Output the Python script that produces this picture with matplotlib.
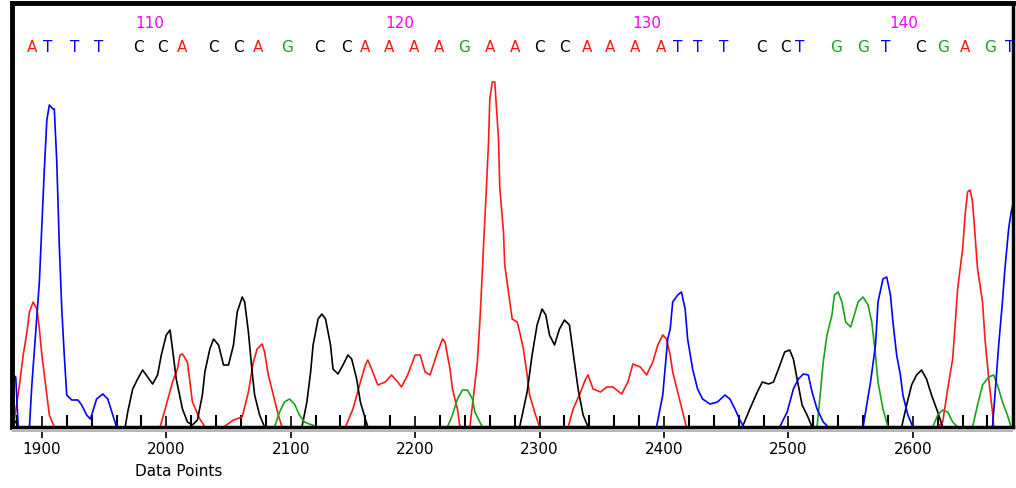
import numpy as np
import matplotlib
matplotlib.use("Agg")
import matplotlib.pyplot as plt
from matplotlib.patches import Rectangle

# trace data: x in data points, y = signal height
a_x = [1877, 1878, 1882, 1885, 1888, 1890, 1893, 1896, 1898, 1900, 1902, 1904, 1906, 1910,
       1995, 2000, 2005, 2009, 2011, 2013, 2017, 2019, 2021, 2027, 2031,
       2046, 2054, 2061, 2066, 2070, 2073, 2077, 2079, 2082, 2086, 2090, 2093,
       2144, 2150, 2156, 2160, 2162, 2165, 2170, 2176, 2181, 2186, 2189, 2194, 2200, 2204,
       2208, 2212, 2218, 2222, 2224, 2228, 2230, 2234, 2236,
       2244, 2247, 2250, 2252, 2254, 2255, 2257, 2259, 2260, 2262, 2264, 2267, 2268, 2271,
       2272, 2275, 2278, 2282, 2284, 2287, 2290, 2292, 2296, 2300,
       2323, 2327, 2333, 2337, 2339, 2343, 2349, 2354, 2359, 2366, 2371, 2375, 2381, 2386,
       2391, 2395, 2399, 2402, 2405, 2407, 2411, 2415, 2418,
       2620, 2624, 2628, 2632, 2634, 2636, 2640, 2642, 2644, 2646, 2648, 2650, 2652, 2656,
       2658, 2661, 2664, 2665]
a_y = [5, 8, 42, 72, 95, 115, 125, 118, 98, 72, 52, 32, 12, 0,
       0, 22, 45, 58, 72, 73, 65, 45, 25, 8, 0,
       0, 7, 10, 35, 65, 78, 83, 75, 52, 32, 12, 0,
       0, 18, 45, 62, 67, 58, 42, 45, 52, 45, 40, 52, 72, 72,
       55, 52, 75, 88, 85, 58, 38, 18, 0,
       0, 32, 65, 105, 155, 182, 232, 285, 328, 345, 345, 288, 240, 195,
       162, 135, 108, 105, 95, 78, 52, 32, 15, 0,
       0, 18, 35, 48, 52, 38, 35, 40, 40, 33, 45, 63, 60, 52,
       65, 82, 92, 88, 72, 55, 35, 15, 0,
       0, 5, 38, 68, 102, 138, 178, 212, 235, 237, 225, 192, 158, 125,
       88, 48, 15, 0]

c_x = [1877, 1879, 1881,
       1967, 1969, 1973, 1977, 1981, 1985, 1989, 1993, 1996, 2000, 2003, 2005, 2008, 2013,
       2017, 2021, 2025, 2029, 2031, 2035, 2038, 2042, 2046, 2050, 2054, 2057, 2061, 2063,
       2066, 2069, 2071, 2075, 2079,
       2109, 2113, 2116, 2118, 2122, 2125, 2128, 2132, 2134, 2138, 2142, 2146, 2149, 2153,
       2156, 2160, 2162,
       2284, 2290, 2294, 2298, 2302, 2305, 2308, 2312, 2316, 2320, 2324, 2328, 2331, 2335, 2339,
       2463, 2469, 2475, 2479, 2484, 2488, 2492, 2497, 2501, 2504, 2507, 2511, 2515, 2519,
       2591, 2595, 2599, 2603, 2607, 2611, 2615, 2620, 2624]
c_y = [8, 5, 0,
       0, 15, 38, 48, 57, 50, 43, 52, 72, 92, 97, 78, 48, 18,
       5, 2, 7, 32, 55, 78, 88, 82, 62, 62, 82, 115, 130, 125,
       95, 55, 32, 12, 0,
       0, 25, 55, 82, 108, 113, 108, 82, 58, 53, 62, 72, 68, 48,
       25, 8, 0,
       0, 35, 72, 102, 118, 112, 92, 82, 98, 107, 102, 65, 38, 12, 0,
       0, 18, 35, 45, 43, 45, 58, 75, 77, 68, 48, 22, 12, 0,
       0, 22, 42, 52, 57, 48, 32, 15, 0]

g_x = [2087, 2091, 2095, 2099, 2103, 2107, 2111, 2115, 2122,
       2226, 2230, 2234, 2238, 2242, 2246, 2248, 2254,
       2523, 2525, 2528, 2531, 2535, 2537, 2540, 2543, 2546, 2550, 2552, 2556, 2560, 2564,
       2567, 2570, 2572, 2576, 2580,
       2616, 2620, 2624, 2628, 2632, 2636,
       2648, 2652, 2656, 2661, 2665, 2669, 2672, 2676, 2679]
g_y = [0, 15, 25, 28, 23, 12, 5, 3, 0,
       0, 12, 28, 37, 37, 28, 15, 0,
       0, 25, 65, 92, 112, 132, 135, 125, 105, 100, 108, 125, 130, 122,
       105, 72, 45, 18, 0,
       0, 12, 17, 15, 5, 0,
       0, 22, 42, 50, 52, 38, 25, 12, 0]

t_x = [1877, 1879, 1881, 1890, 1892, 1898, 1900, 1902, 1904, 1906, 1909, 1910, 1912, 1914,
       1916, 1918, 1920, 1924, 1929, 1932, 1936, 1939, 1944, 1949, 1953, 1957, 1960,
       2394, 2399, 2403, 2405, 2407, 2411, 2414, 2417, 2419, 2423, 2427, 2431, 2437, 2443,
       2449, 2453, 2457, 2461, 2464,
       2493, 2499, 2504, 2508, 2512, 2516, 2519, 2523, 2528, 2532,
       2560, 2566, 2570, 2572, 2576, 2579, 2582, 2584, 2587, 2590, 2592, 2596, 2600,
       2664, 2666, 2669, 2672, 2674, 2677, 2679, 2681]
t_y = [52, 50, 0, 0, 43, 145, 202, 258, 307, 322, 318, 318, 265, 182,
       118, 72, 32, 27, 27, 22, 12, 8, 28, 33, 28, 12, 0,
       0, 32, 88, 98, 125, 132, 135, 118, 88, 58, 38, 28, 23, 25,
       32, 28, 18, 7, 0,
       0, 15, 38, 48, 53, 52, 35, 18, 5, 0,
       0, 45, 82, 125, 148, 150, 132, 105, 72, 52, 32, 12, 0,
       0, 32, 82, 125, 158, 198, 215, 225]

# base calls
bases = list("ATTTCCACCAGCCAAAAGAACCAAAATTTCCTGGTCGAGT")
base_x = [1892, 1905, 1926, 1946, 1978, 1997, 2013, 2038, 2058, 2074, 2097, 2123, 2145,
          2160, 2179, 2199, 2219, 2239, 2260, 2280, 2300, 2320, 2338, 2357, 2377, 2398,
          2411, 2427, 2448, 2478, 2498, 2509, 2538, 2560, 2578, 2606, 2624, 2642, 2662, 2678]
num_labels = ["110", "120", "130", "140"]
num_x = [1987, 2188, 2386, 2593]

ticks = [1900, 2000, 2100, 2200, 2300, 2400, 2500, 2600]

colors = {"A": "#ff1a1a", "C": "#000000", "G": "#1aa31a", "T": "#0000ff"}

fig = plt.figure(figsize=(10.16, 4.88), dpi=100)
ax = fig.add_axes([12 / 1016, 61 / 488, 1001 / 1016, 424 / 488])

ax.plot(a_x, a_y, color=colors["A"], lw=1.2)
ax.plot(c_x, c_y, color=colors["C"], lw=1.2)
ax.plot(g_x, g_y, color=colors["G"], lw=1.2)
ax.plot(t_x, t_y, color=colors["T"], lw=1.2)

for b, x in zip(bases, base_x):
    ax.text(x, 380, b, color=colors[b], ha="center", va="center",
            fontsize=11, clip_on=True)
for s, x in zip(num_labels, num_x):
    ax.text(x, 404, s, color="#ff00ff", ha="center", va="center", fontsize=11)

ax.set_xlim(1876, 2680.5)
ax.set_ylim(0, 424)
ax.set_yticks([])
ax.set_xticks(ticks)
ax.set_xticklabels([str(t) for t in ticks], fontsize=11)
ax.set_xticks(np.arange(1880, 2680, 20), minor=True)
ax.tick_params(axis="x", which="major", direction="inout", length=16, width=1.2, pad=3)
ax.tick_params(axis="x", which="minor", direction="in", length=9, width=1.5)

ax.spines["left"].set_linewidth(3.5)
ax.spines["top"].set_linewidth(3.5)
ax.spines["right"].set_linewidth(2.5)
ax.spines["bottom"].set_linewidth(2.5)

# grey shadow under the axis line
fig.add_artist(Rectangle((12 / 1016, 56 / 488), 1001 / 1016, 3 / 488,
                         transform=fig.transFigure, color="#b8b8b8", lw=0))

fig.text(179 / 1016, 1 - 472 / 488, "Data Points", ha="center", va="center", fontsize=11)

fig.savefig("out.png", dpi=100)
